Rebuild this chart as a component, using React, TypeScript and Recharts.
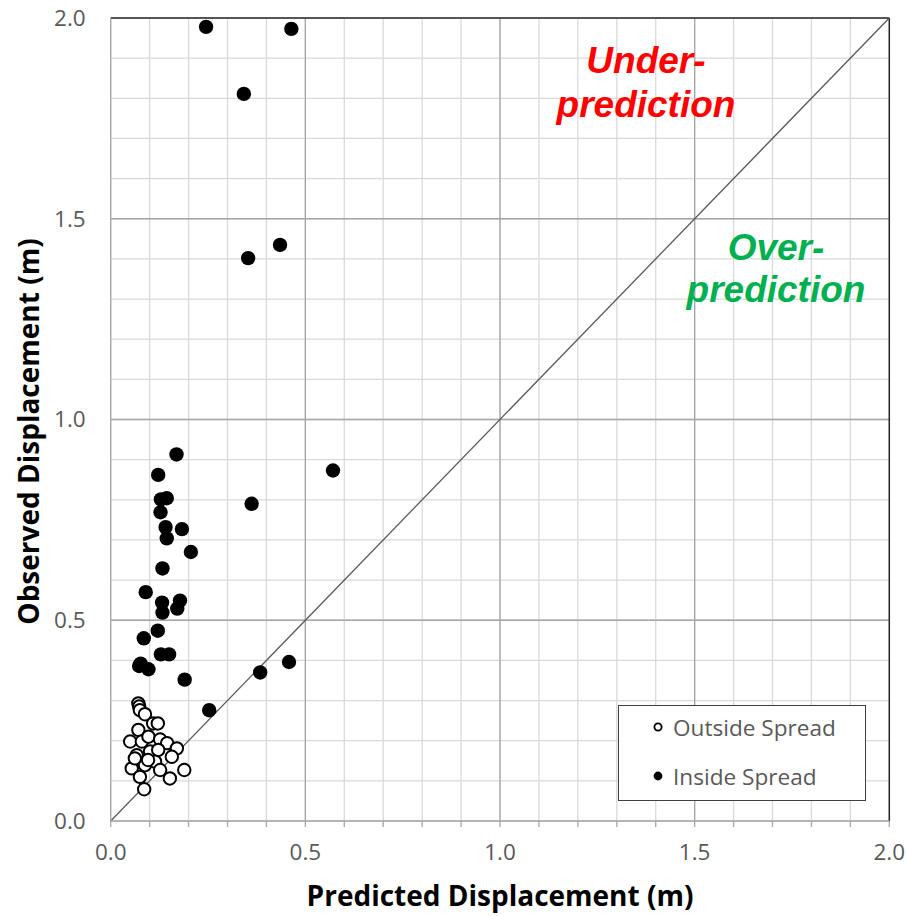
import {
  ScatterChart, Scatter, XAxis, YAxis, CartesianGrid, ReferenceLine, ReferenceDot,
} from 'recharts';

// Predicted vs observed displacement (m), split by spread classification
const outsidePredicted = [
  0.071, 0.073, 0.075, 0.088, 0.109, 0.121, 0.071, 0.050, 0.080, 0.097,
  0.127, 0.145, 0.170, 0.101, 0.067, 0.122, 0.157, 0.114, 0.088, 0.054,
  0.127, 0.075, 0.152, 0.189, 0.086, 0.062, 0.096,
];
const outsideObserved = [
  0.293, 0.285, 0.276, 0.266, 0.243, 0.243, 0.227, 0.198, 0.198, 0.210,
  0.203, 0.194, 0.181, 0.173, 0.164, 0.177, 0.160, 0.148, 0.139, 0.131,
  0.127, 0.110, 0.106, 0.127, 0.079, 0.156, 0.152,
];

const insidePredicted = [
  0.245, 0.464, 0.342, 0.353, 0.435, 0.169, 0.571, 0.122, 0.129, 0.144,
  0.128, 0.141, 0.183, 0.144, 0.206, 0.133, 0.362, 0.090, 0.132, 0.133,
  0.178, 0.171, 0.121, 0.085, 0.129, 0.150, 0.077, 0.073, 0.097, 0.190,
  0.384, 0.458, 0.253,
];
const insideObserved = [
  1.978, 1.973, 1.811, 1.402, 1.435, 0.913, 0.873, 0.862, 0.801, 0.804,
  0.769, 0.732, 0.727, 0.704, 0.670, 0.629, 0.790, 0.570, 0.544, 0.519,
  0.549, 0.529, 0.474, 0.455, 0.415, 0.415, 0.392, 0.386, 0.378, 0.352,
  0.370, 0.396, 0.276,
];

const seriesNames = ['Outside Spread', 'Inside Spread'];

const minorTicks = [
  0, 0.1, 0.2, 0.3, 0.4, 0.5, 0.6, 0.7, 0.8, 0.9, 1.0,
  1.1, 1.2, 1.3, 1.4, 1.5, 1.6, 1.7, 1.8, 1.9, 2.0,
];
const majorTicks = [0.5, 1.0, 1.5];
const labelledTicks = [0, 0.5, 1.0, 1.5, 2.0];

const underLines = ['Under-', 'prediction'];
const overLines = ['Over-', 'prediction'];

const FONT = "'Open Sans', sans-serif";
const GRAY_TEXT = '#595959';

const toPoints = (xs: number[], ys: number[]) => xs.map((x, i) => ({ x, y: ys[i] }));
const outsideData = toPoints(outsidePredicted, outsideObserved);
const insideData = toPoints(insidePredicted, insideObserved);

const fmtTick = (v: number) =>
  labelledTicks.some(t => Math.abs(t - v) < 1e-6) ? v.toFixed(1) : '';

const OpenDot = (props: any) => (
  <circle cx={props.cx} cy={props.cy} r={6.2} fill="#fff" stroke="#000" strokeWidth={2} />
);
const FilledDot = (props: any) => (
  <circle cx={props.cx} cy={props.cy} r={7.2} fill="#000" />
);

const annotation = (lines: string[], color: string, gap: number) => (props: any) => {
  const { x, y } = props.viewBox;
  return (
    <g>
      {lines.map((line, i) => (
        <text
          key={i}
          x={x}
          y={y + i * gap}
          textAnchor="middle"
          fill={color}
          fontFamily="'Liberation Sans', Arial, sans-serif"
          fontWeight="bold"
          fontStyle="italic"
          fontSize={37}
        >
          {line}
        </text>
      ))}
    </g>
  );
};

const LegendBox = () => (
  <div
    style={{
      position: 'absolute', left: 618, top: 705, width: 246, height: 94,
      border: '1px solid #404040', background: '#fff', fontFamily: FONT,
      fontSize: 22.6, color: GRAY_TEXT,
    }}
  >
    {seriesNames.map((name, i) => (
      <div
        key={name}
        style={{ position: 'absolute', left: 32, top: 6 + i * 49, height: 30, display: 'flex', alignItems: 'center' }}
      >
        <svg width={14} height={14} style={{ marginRight: 8 }}>
          {i === 0
            ? <circle cx={7} cy={7} r={3.6} fill="#fff" stroke="#000" strokeWidth={1.8} />
            : <circle cx={7} cy={7} r={4.4} fill="#000" />}
        </svg>
        <span>{name}</span>
      </div>
    ))}
  </div>
);

export default function App() {
  return (
    <div style={{ position: 'absolute', left: 0, top: 0, width: 907, height: 916, background: '#fff' }}>
      <ScatterChart
        width={907}
        height={916}
        margin={{ top: 18, right: 17.7, bottom: 45, left: 50.7 }}
      >
        <CartesianGrid stroke="#d9d9d9" strokeWidth={1.3} />
        {majorTicks.map(t => (
          <ReferenceLine key={`vx${t}`} x={t} stroke="#a6a6a6" strokeWidth={1.3} />
        ))}
        {majorTicks.map(t => (
          <ReferenceLine key={`hy${t}`} y={t} stroke="#a6a6a6" strokeWidth={1.3} />
        ))}
        <ReferenceLine x={2} stroke="#262626" strokeWidth={1.5} />
        <ReferenceLine y={2} stroke="#262626" strokeWidth={1.5} />
        <ReferenceLine
          segment={[{ x: 0, y: 0 }, { x: 2, y: 2 }]}
          stroke="#595959"
          strokeWidth={1.3}
        />
        <XAxis
          type="number"
          dataKey="x"
          domain={[0, 2]}
          ticks={minorTicks}
          interval={0}
          tickFormatter={fmtTick}
          stroke="#a6a6a6"
          strokeWidth={1.3}
          tickSize={6}
          tickMargin={17}
          height={50}
          tick={{ fill: GRAY_TEXT, fontSize: 22.5, fontFamily: FONT }}
          label={{
            value: 'Predicted Displacement (m)',
            position: 'bottom',
            offset: 15,
            fill: '#000',
            fontSize: 28,
            fontWeight: 'bold',
            fontFamily: FONT,
          }}
        />
        <YAxis
          type="number"
          dataKey="y"
          domain={[0, 2]}
          ticks={minorTicks}
          interval={0}
          tickFormatter={fmtTick}
          stroke="#a6a6a6"
          strokeWidth={1.3}
          tickLine={false}
          tickSize={6}
          tickMargin={19}
          width={60}
          tick={{ fill: GRAY_TEXT, fontSize: 22.5, fontFamily: FONT }}
          label={{
            content: (p: any) => {
              const { x, y, height } = p.viewBox;
              const cx = x - 23;
              const cy = y + height / 2 + 12;
              return (
                <text
                  x={cx}
                  y={cy}
                  transform={`rotate(-90 ${cx} ${cy})`}
                  textAnchor="middle"
                  dominantBaseline="central"
                  fill="#000"
                  fontSize={28}
                  fontWeight="bold"
                  fontFamily={FONT}
                >
                  Observed Displacement (m)
                </text>
              );
            },
          }}
        />
        <ReferenceDot x={1.375} y={1.863} r={0} stroke="none" label={{ content: annotation(underLines, '#ff0000', 44) }} />
        <ReferenceDot x={1.709} y={1.397} r={0} stroke="none" label={{ content: annotation(overLines, '#00b050', 42) }} />
        <Scatter name={seriesNames[0]} data={outsideData} shape={OpenDot} isAnimationActive={false} />
        <Scatter name={seriesNames[1]} data={insideData} shape={FilledDot} isAnimationActive={false} />
      </ScatterChart>
      <LegendBox />
    </div>
  );
}
